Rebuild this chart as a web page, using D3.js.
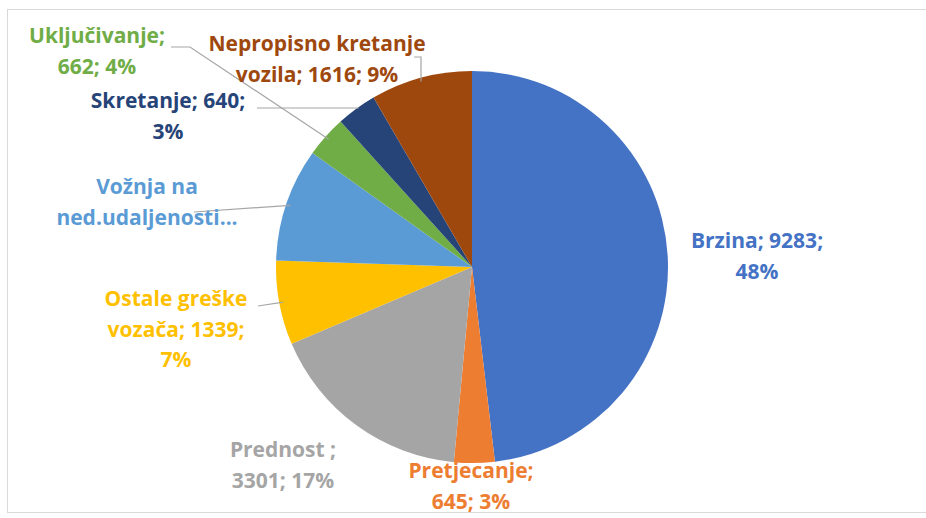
<!DOCTYPE html>
<meta charset="utf-8">
<style>
body { margin: 0; background: #fff; }
svg { display: block; }
.lbl { font-family: 'Open Sans', 'Lato', sans-serif; font-weight: bold; font-size: 21px; }
</style>
<svg id="chart" width="926" height="518"></svg>
<script src="https://cdn.jsdelivr.net/npm/d3@7"></script>
<script>

// data
var categories = ["Brzina", "Pretjecanje", "Prednost", "Ostale greške vozača",
                  "Vožnja na ned.udaljenosti", "Uključivanje", "Skretanje", "Nepropisno kretanje vozila"];
var values = [9283, 645, 3301, 1339, 1800, 662, 640, 1616];
var percents = ["48%", "3%", "17%", "7%", "9%", "4%", "3%", "9%"];
var colors = ["#4472C4", "#ED7D31", "#A5A5A5", "#FFC000", "#5B9BD5", "#70AD47", "#264478", "#9E480E"];

// label text lines as shown on the chart
var labelLines = [
  ["Brzina; 9283;", "48%"],
  ["Pretjecanje;", "645; 3%"],
  ["Prednost ;", "3301; 17%"],
  ["Ostale greške", "vozača; 1339;", "7%"],
  ["Vožnja na", "ned.udaljenosti..."],
  ["Uključivanje;", "662; 4%"],
  ["Skretanje; 640;", "3%"],
  ["Nepropisno kretanje", "vozila; 1616; 9%"]
];

var svg = d3.select("#chart");
var cx = 472, cy = 267, r = 196;

// chart frame
svg.append("rect")
  .attr("x", 7.5).attr("y", 9.5)
  .attr("width", 940).attr("height", 503)
  .attr("fill", "none")
  .attr("stroke", "#d9d9d9");

var pie = d3.pie().sort(null).value(function(d) { return d; });
var arcs = pie(values);

var arc = d3.arc().innerRadius(0).outerRadius(r);
var edge = d3.arc().innerRadius(r - 4).outerRadius(r - 4);

var g = svg.append("g").attr("transform", "translate(" + cx + "," + cy + ")");

g.selectAll("path.slice")
  .data(arcs)
  .enter().append("path")
    .attr("class", "slice")
    .attr("d", arc)
    .attr("fill", function(d, i) { return colors[i]; });

// label placement: centre x, first baseline y (layout only)
var labelPos = [
  [757, 248], [471, 478], [283, 457], [176, 306],
  [147, 194], [97, 43], [168, 108], [317, 51]
];
var lineH = 30.5;

// leader lines: start point and optional elbow, ending on the slice edge
var leaders = {
  3: [[258, 306]],
  4: [[194, 212]],
  5: [[171, 47], [190, 47]],
  6: [[257, 108]],
  7: [[414, 57], [421, 57]]
};

Object.keys(leaders).forEach(function(k) {
  var i = +k;
  var pts = leaders[k].slice();
  var e = edge.centroid(arcs[i]);
  var end = [cx + e[0], cy + e[1]];
  if (i === 6) end = [end[0], 108];
  if (i === 7) end = [421, end[1]];
  pts.push(end);
  svg.append("path")
    .attr("d", d3.line()(pts))
    .attr("fill", "none")
    .attr("stroke", "#A6A6A6")
    .attr("stroke-width", 1.2);
});

labelLines.forEach(function(lines, i) {
  var t = svg.append("text")
    .attr("class", "lbl")
    .attr("text-anchor", "middle")
    .attr("fill", colors[i]);
  lines.forEach(function(s, j) {
    t.append("tspan")
      .attr("x", labelPos[i][0])
      .attr("y", labelPos[i][1] + j * lineH)
      .text(s);
  });
});

</script>
